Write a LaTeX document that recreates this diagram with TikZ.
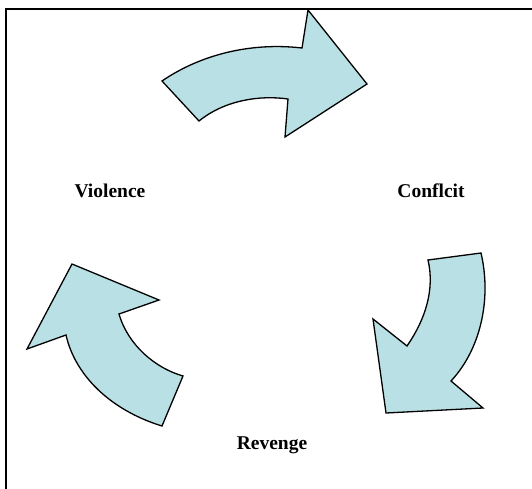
\documentclass[tikz,border=0pt]{standalone}
\usepackage{fontspec}
\setmainfont{Liberation Serif}
\definecolor{arrowfill}{RGB}{185,224,228}
\begin{document}
\begin{tikzpicture}[x=1pt,y=-1pt,
  cyclearrow/.style={draw=black,line width=1.3pt,line join=miter,fill=arrowfill},
  stagelabel/.style={font=\bfseries\fontsize{19.5}{22}\selectfont,inner sep=0pt}]
\useasboundingbox (0,0) rectangle (532,489);
% frame
\draw[line width=1.8pt] (6,489) -- (6,9) -- (532,9);
% top arrow: Violence -> Conflcit
\draw[cyclearrow] (162,81) .. controls (200,55) and (250,42) .. (302,48)
  -- (308,10) -- (367,84) -- (285,137) -- (288,99)
  .. controls (260,95) and (225,100) .. (199,121) -- cycle;
% right arrow: Conflcit -> Revenge
\draw[cyclearrow] (481,253) .. controls (492,300) and (480,350) .. (451,381)
  -- (483,408) -- (386,413) -- (373,319) -- (407,346)
  .. controls (425,320) and (435,290) .. (428,260) -- cycle;
% left arrow: Revenge -> Violence
\draw[cyclearrow] (162,426) .. controls (110,410) and (75,375) .. (66,335)
  -- (27,349) -- (72,264) -- (159,300) -- (119,314)
  .. controls (128,345) and (155,368) .. (183,376) -- cycle;
% labels
\node[stagelabel] (violence) at (110,191) {Violence};
\node[stagelabel] (conflict) at (431,191) {Conflcit};
\node[stagelabel] (revenge) at (272,445) {Revenge};
\end{tikzpicture}
\end{document}
